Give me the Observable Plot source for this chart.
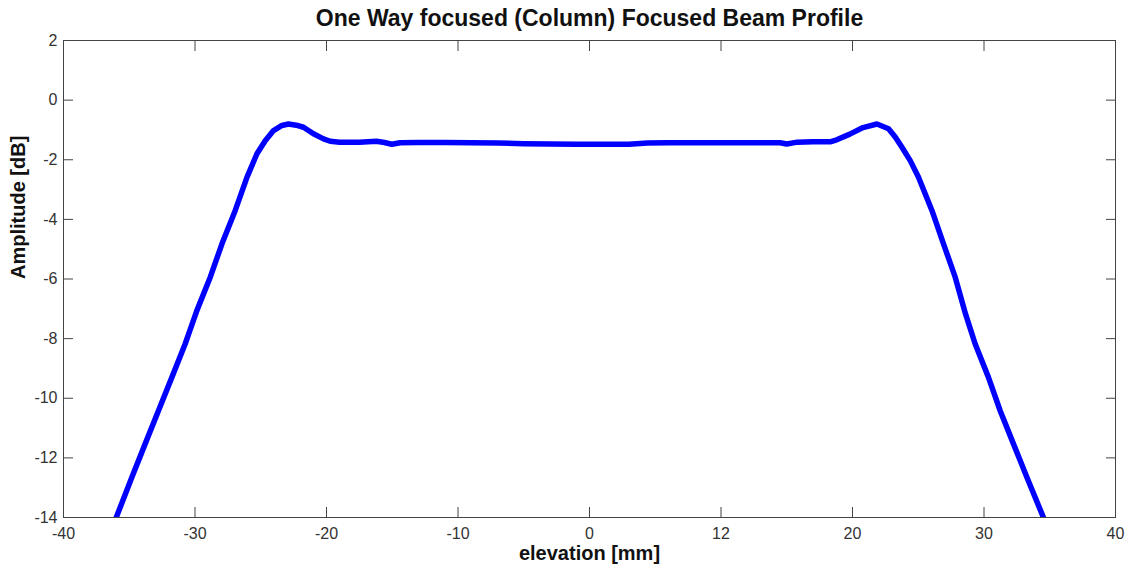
<!DOCTYPE html>
<html>
<head>
<meta charset="utf-8">
<script src="https://cdn.jsdelivr.net/npm/d3@7"></script>
<script src="https://cdn.jsdelivr.net/npm/@observablehq/plot@0.6"></script>
<style>
  html, body { margin: 0; padding: 0; background: #fff; }
  #chart svg { display: block; font-family: "Liberation Sans", Arial, sans-serif; }
</style>
</head>
<body>
<div id="chart"></div>
<script>
const title = "One Way focused (Column) Focused Beam Profile";
const xLabel = "elevation [mm]";
const yLabel = "Amplitude [dB]";

const xTicks = [-40, -30, -20, -10, 0, 10, 20, 30, 40];
const xTickLabels = ["-40", "-30", "-20", "-10", "0", "12", "20", "30", "40"];
const yTicks = [2, 0, -2, -4, -6, -8, -10, -12, -14];

const elevation = [
  -36.4, -35.99, -34.80, -33.79, -32.78, -31.76, -30.75, -29.86, -28.84, -27.95, -26.94, -26.05,
  -25.29, -24.66, -24.03, -23.39, -22.89, -22.3, -21.75, -20.99, -20.23, -19.72, -19.0, -17.5,
  -16.2, -15.6, -15.03, -14.4, -13.0, -11.0, -9.0, -7.0, -5.0, -3.0, -1.0, 1.0, 3.0, 4.4,
  6.0, 8.0, 10.0, 12.0, 14.5, 15.0, 15.8, 17.0, 18.3, 18.8, 19.8, 20.8, 21.86, 22.74,
  23.25, 23.76, 24.39, 25.02, 26.04, 26.92, 27.81, 28.60, 29.33, 30.34, 31.23, 32.24,
  33.26, 34.52, 34.7
];
const amplitude = [
  -15.0, -14.0, -12.65, -11.53, -10.42, -9.30, -8.18, -7.06, -5.94, -4.82, -3.70, -2.59,
  -1.80, -1.36, -1.02, -0.85, -0.80, -0.84, -0.91, -1.13, -1.30, -1.38, -1.41, -1.41,
  -1.38, -1.42, -1.48, -1.43, -1.42, -1.42, -1.43, -1.44, -1.46, -1.47, -1.48, -1.48, -1.48, -1.44,
  -1.43, -1.43, -1.43, -1.43, -1.43, -1.47, -1.41, -1.40, -1.40, -1.33, -1.14, -0.92, -0.80, -0.96,
  -1.24, -1.58, -2.03, -2.59, -3.70, -4.82, -5.94, -7.18, -8.18, -9.30, -10.42, -11.53,
  -12.65, -14.0, -14.4
];

const data = elevation.map((x, i) => ({x, y: amplitude[i]}));
const fontFamily = "'Liberation Sans', Arial, sans-serif";

const chart = Plot.plot({
  width: 1130,
  height: 572,
  marginLeft: 63,
  marginRight: 15,
  marginTop: 40,
  marginBottom: 55,
  style: {fontFamily, fontSize: "16px", color: "#333", background: "#fff"},
  x: {domain: [-40, 40]},
  y: {domain: [-14, 2]},
  marks: [
    Plot.line(data, {x: "x", y: "y", stroke: "#0000ff", strokeWidth: 5.5, clip: true, strokeLinejoin: "round"}),
    Plot.frame({stroke: "#444", strokeWidth: 1}),
    Plot.axisX({anchor: "bottom", ticks: xTicks, tickSize: -10, tickPadding: 20,
      tickFormat: (d) => xTickLabels[xTicks.indexOf(d)], label: null, fill: "#333", stroke: "#444", fontSize: 16}),
    Plot.axisX({anchor: "top", ticks: xTicks, tickSize: -10, tickFormat: () => "", label: null, stroke: "#444"}),
    Plot.axisY({anchor: "left", ticks: yTicks, tickSize: -10, tickPadding: 16,
      tickFormat: (d) => String(d).replace("\u2212", "-"), label: null, fill: "#333", stroke: "#444", fontSize: 16}),
    Plot.axisY({anchor: "right", ticks: yTicks, tickSize: -10, tickFormat: () => "", label: null, stroke: "#444"}),
    Plot.text([title], {frameAnchor: "top", lineAnchor: "middle", dy: -22, fontSize: 23, fontWeight: "bold", fill: "#111"}),
    Plot.text([xLabel], {frameAnchor: "bottom", lineAnchor: "middle", dy: 36, fontSize: 20, fontWeight: "bold", fill: "#111"}),
    Plot.text([yLabel], {frameAnchor: "left", dx: -45, rotate: -90, fontSize: 20, fontWeight: "bold", fill: "#111"})
  ]
});
document.getElementById("chart").appendChild(chart);
</script>
</body>
</html>
